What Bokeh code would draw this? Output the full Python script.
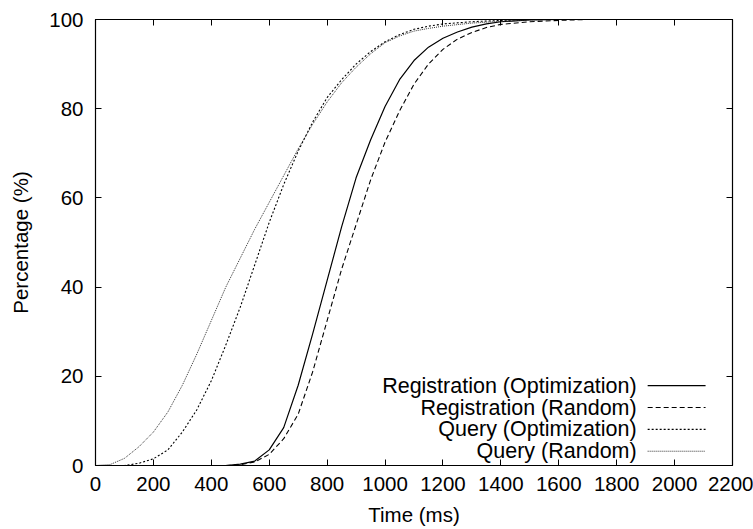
from bokeh.plotting import figure
from bokeh.models import LinearAxis, FixedTicker, Range1d, CustomJSTickFormatter
from bokeh.core.properties import value
from bokeh.embed import file_html
from bokeh.resources import INLINE

# ---- data ----
x_ticks = [0, 200, 400, 600, 800, 1000, 1200, 1400, 1600, 1800, 2000, 2200]
y_ticks = [0, 20, 40, 60, 80, 100]

reg_opt_ms = [450, 500, 550, 600, 650, 700, 750, 800, 850, 900, 950, 1000, 1050, 1100,
              1150, 1200, 1250, 1300, 1350, 1400, 1500, 1600, 1900]
reg_opt_pct = [0, 0.3, 1, 3.5, 8.5, 18, 29.5, 41.5, 53.5, 64.5, 73, 80.5, 86.5, 90.8,
               93.8, 95.8, 97.2, 98.3, 99, 99.5, 99.9, 100, 100]

reg_rand_ms = [450, 500, 550, 600, 650, 700, 750, 800, 850, 900, 950, 1000, 1050, 1100,
               1150, 1200, 1250, 1300, 1350, 1400, 1500, 1600, 1700, 1900]
reg_rand_pct = [0, 0.2, 0.8, 2.5, 6, 11.5, 21, 32.5, 44, 54, 64, 72.5, 79.5, 85.5,
                90, 93.3, 95.6, 97.1, 98.2, 98.9, 99.5, 99.8, 100, 100]

query_opt_ms = [0, 100, 150, 200, 250, 300, 350, 400, 450, 500, 550, 600, 650, 700, 750,
                800, 850, 900, 950, 1000, 1050, 1100, 1150, 1200, 1300, 1400, 1500, 1850]
query_opt_pct = [0, 0, 0.5, 1.5, 3.5, 7.5, 12.5, 19, 27, 35.5, 45, 54.5, 63, 70.5, 77,
                 82.5, 86.5, 90, 92.8, 95, 96.6, 97.8, 98.5, 99, 99.5, 99.8, 100, 100]

query_rand_ms = [0, 50, 100, 150, 200, 250, 300, 350, 400, 450, 500, 550, 600, 650, 700,
                 750, 800, 850, 900, 950, 1000, 1050, 1100, 1150, 1200, 1300, 1400, 1500,
                 1600, 1850]
query_rand_pct = [0, 0.2, 1.6, 4.2, 7.5, 12, 18, 25, 32.5, 40, 46.5, 53, 59, 65, 71,
                  76.5, 81.5, 85.8, 89.3, 92.3, 94.8, 96.3, 97.4, 98, 98.5, 99.2, 99.6, 99.9,
                  100, 100]

labels = ["Registration (Optimization)", "Registration (Random)",
          "Query (Optimization)", "Query (Random)"]

# ---- styles ----
FONT = "Liberation Sans"
FSIZE = "20.5px"
LEG_FSIZE = "21.5px"
dashes = ["solid", "5 3", "2 2", "1 1"]
widths = [1.2, 1.1, 1.1, 1.0]
colors = ["black", "black", "black", "#333333"]

p = figure(width=753, height=528, output_backend="svg", toolbar_location=None,
           x_range=Range1d(0, 2200), y_range=Range1d(0, 100),
           min_border_left=95, min_border_right=21, min_border_top=19, min_border_bottom=63)
p.background_fill_color = "white"
p.border_fill_color = "white"
p.outline_line_color = "black"
p.outline_line_width = 1.2
p.xgrid.visible = False
p.ygrid.visible = False

series = [(reg_opt_ms, reg_opt_pct), (reg_rand_ms, reg_rand_pct),
          (query_opt_ms, query_opt_pct), (query_rand_ms, query_rand_pct)]
for (xs, ys), d, w, c in zip(series, dashes, widths, colors):
    p.line(xs, ys, line_color=c, line_width=w, line_dash=d)

# axes
for ax in (p.xaxis[0], p.yaxis[0]):
    ax.major_tick_in = 6
    ax.major_tick_out = 0
    ax.minor_tick_line_color = None
    ax.axis_line_color = "black"
    ax.major_tick_line_color = "black"
    ax.major_label_text_font = FONT
    ax.major_label_text_font_size = FSIZE
    ax.major_label_text_color = "black"
    ax.axis_label_text_font = FONT
    ax.axis_label_text_font_size = FSIZE
    ax.axis_label_text_font_style = "normal"
    ax.axis_label_text_color = "black"

p.xaxis[0].ticker = FixedTicker(ticks=x_ticks)
p.yaxis[0].ticker = FixedTicker(ticks=y_ticks)
p.xaxis[0].axis_label = "Time (ms)"
p.yaxis[0].axis_label = "Percentage (%)"
p.xaxis[0].major_label_standoff = 11
p.xaxis[0].axis_label_standoff = 9
p.yaxis[0].major_label_standoff = 12
p.yaxis[0].axis_label_standoff = 14

# mirrored ticks on top and right (no labels)
blank = CustomJSTickFormatter(code="return '';")
top = LinearAxis(ticker=FixedTicker(ticks=x_ticks), formatter=blank)
right = LinearAxis(ticker=FixedTicker(ticks=y_ticks), formatter=blank)
for ax in (top, right):
    ax.major_tick_in = 6
    ax.major_tick_out = 0
    ax.minor_tick_line_color = None
    ax.major_label_standoff = 0
    ax.axis_line_color = "black"
p.add_layout(top, "above")
p.add_layout(right, "right")

# legend (drawn inside the plot, text right-aligned with sample lines on the right)
leg_text_x = 1869
leg_line_x0, leg_line_x1 = 1907, 2107
leg_rows = [17.9, 13.0, 8.1, 3.2]
for lab, yy, d, w, c in zip(labels, leg_rows, dashes, widths, colors):
    p.text(x=[leg_text_x], y=[yy], text=[lab], text_align="right", text_baseline="middle",
           text_font=value(FONT), text_font_size=LEG_FSIZE, text_color="black")
    p.segment(x0=[leg_line_x0], y0=[yy], x1=[leg_line_x1], y1=[yy],
              line_color=c, line_width=w, line_dash=d)

open("out.html", "w").write(file_html(p, INLINE))
